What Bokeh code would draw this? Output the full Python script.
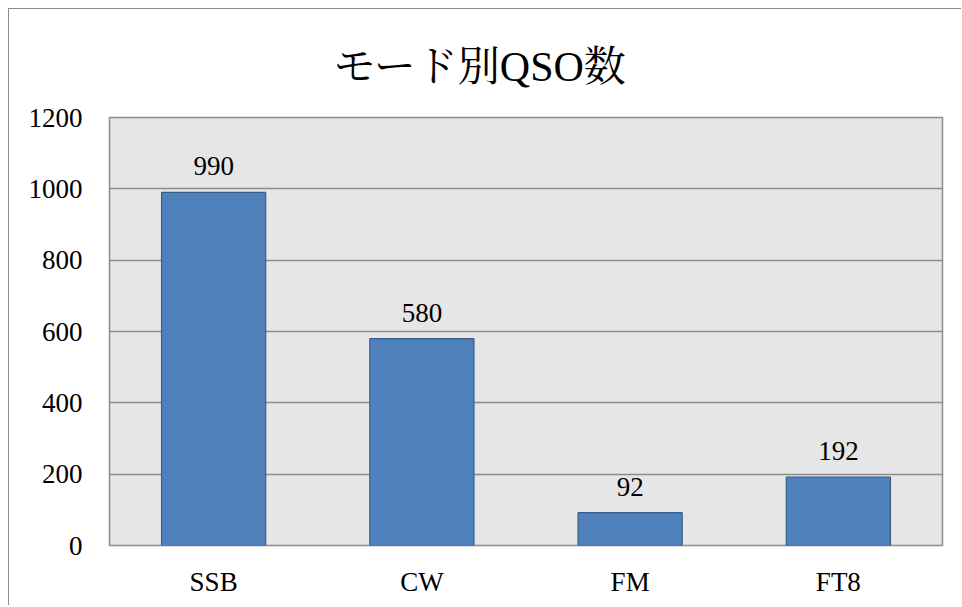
from bokeh.plotting import figure
from bokeh.models import ColumnDataSource, FixedTicker, Range1d
from bokeh.core.properties import value
from bokeh.embed import file_html
from bokeh.resources import INLINE

modes = ["SSB", "CW", "FM", "FT8"]
counts = [990, 580, 92, 192]
y_ticks = [0, 200, 400, 600, 800, 1000, 1200]
title_text = "モード別QSO数"

SERIF = "'Liberation Serif', 'Noto Serif CJK JP', 'Noto Sans CJK JP', serif"

src = ColumnDataSource(dict(x=modes, top=counts, label=[str(c) for c in counts]))

OFF = 8
p = figure(x_range=modes, y_range=Range1d(0, 1200),
           frame_width=833, frame_height=428,
           output_backend="svg", toolbar_location=None, title=title_text,
           min_border_left=100, min_border_right=19, min_border_top=108,
           min_border_bottom=60, margin=(OFF, 0, 0, OFF),
           styles={"border-left": "1.5px solid #8c8c8c", "border-top": "1.5px solid #8c8c8c"})

p.background_fill_color = "#e6e6e6"
p.border_fill_color = "white"
p.outline_line_color = "#8c8c8c"
p.outline_line_width = 1.5

p.title.align = "left"
p.title.offset = 224
p.title.text_font = SERIF
p.title.text_font_size = "42px"
p.title.text_font_style = "normal"
p.title.text_color = "black"
p.title.standoff = 56

p.vbar(x="x", top="top", width=0.5, source=src, fill_color="#4f81bd",
       line_color="#385d8a", line_width=1.2)

p.text(x="x", y="top", text="label", source=src, text_align="center",
       text_baseline="middle", y_offset=-26, text_font=value(SERIF),
       text_font_size="27px", text_color="black")

p.yaxis.ticker = FixedTicker(ticks=y_ticks)
p.yaxis.axis_line_color = None
p.yaxis.major_tick_line_color = None
p.yaxis.minor_tick_line_color = None
p.yaxis.major_label_standoff = 21
p.yaxis.major_label_text_font = SERIF
p.yaxis.major_label_text_font_size = "27px"
p.yaxis.major_label_text_color = "black"

p.xaxis.axis_line_color = None
p.xaxis.major_tick_line_color = None
p.xaxis.major_label_standoff = 15
p.xaxis.major_label_text_font = SERIF
p.xaxis.major_label_text_font_size = "27px"
p.xaxis.major_label_text_color = "black"

p.xgrid.grid_line_color = None
p.ygrid.grid_line_color = "#8c8c8c"
p.ygrid.grid_line_width = 1.5

open("out.html", "w").write(file_html(p, INLINE))
